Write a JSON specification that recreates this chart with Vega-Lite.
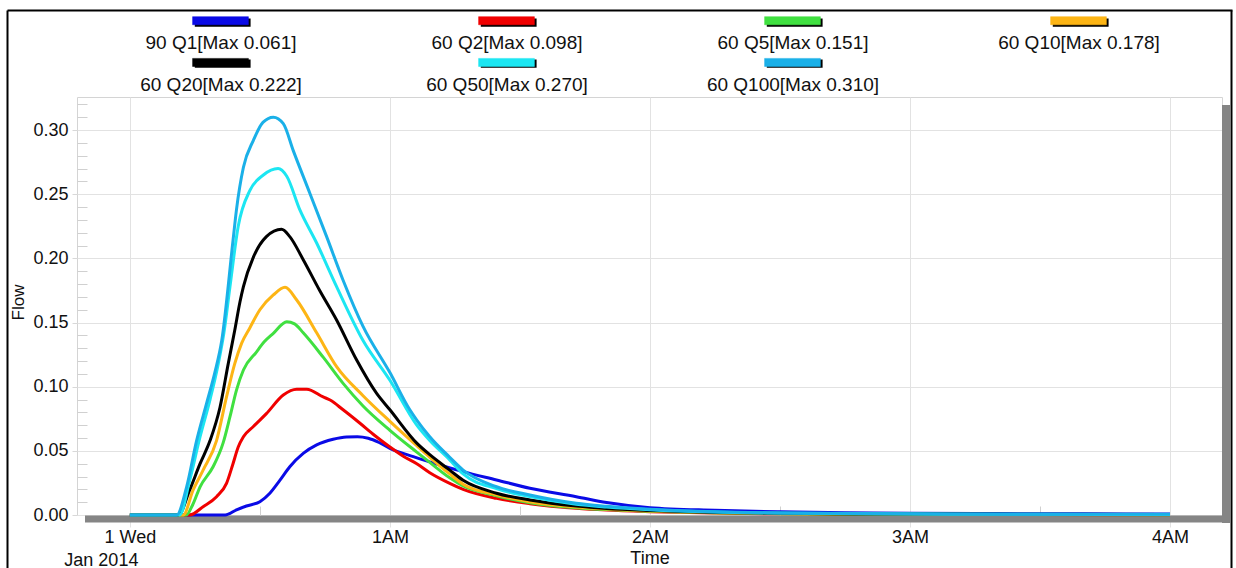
{
"$schema": "https://vega.github.io/schema/vega-lite/v6.json",
"width": 1145, "height": 418,
"autosize": {"type": "none"},
"padding": {"left": 77, "top": 97, "right": 14, "bottom": 53},
"background": "white",
"config": {"view": {"stroke": "#d4d4d4", "strokeWidth": 1}, "font": "Liberation Sans"},
"data": {"values": [
{"s":"90 Q1[Max 0.061]","t":0,"v":0},{"s":"90 Q1[Max 0.061]","t":22,"v":0},{"s":"90 Q1[Max 0.061]","t":24.6,"v":0.004},{"s":"90 Q1[Max 0.061]","t":26.9,"v":0.007},{"s":"90 Q1[Max 0.061]","t":30,"v":0.0104},{"s":"90 Q1[Max 0.061]","t":32.3,"v":0.017},{"s":"90 Q1[Max 0.061]","t":34.6,"v":0.027},{"s":"90 Q1[Max 0.061]","t":36.9,"v":0.0376},{"s":"90 Q1[Max 0.061]","t":40,"v":0.048},{"s":"90 Q1[Max 0.061]","t":43.1,"v":0.0546},{"s":"90 Q1[Max 0.061]","t":46.9,"v":0.059},{"s":"90 Q1[Max 0.061]","t":50,"v":0.0608},{"s":"90 Q1[Max 0.061]","t":52.5,"v":0.061},{"s":"90 Q1[Max 0.061]","t":55,"v":0.0598},{"s":"90 Q1[Max 0.061]","t":57.5,"v":0.0565},{"s":"90 Q1[Max 0.061]","t":60,"v":0.052},{"s":"90 Q1[Max 0.061]","t":65.4,"v":0.0455},{"s":"90 Q1[Max 0.061]","t":71.5,"v":0.039},{"s":"90 Q1[Max 0.061]","t":76.9,"v":0.0338},{"s":"90 Q1[Max 0.061]","t":84.6,"v":0.0273},{"s":"90 Q1[Max 0.061]","t":92.3,"v":0.0208},{"s":"90 Q1[Max 0.061]","t":103,"v":0.0143},{"s":"90 Q1[Max 0.061]","t":110,"v":0.0097},{"s":"90 Q1[Max 0.061]","t":120,"v":0.0057},{"s":"90 Q1[Max 0.061]","t":135,"v":0.0037},{"s":"90 Q1[Max 0.061]","t":150,"v":0.0025},{"s":"90 Q1[Max 0.061]","t":165,"v":0.0018},{"s":"90 Q1[Max 0.061]","t":180,"v":0.0014},{"s":"90 Q1[Max 0.061]","t":200,"v":0.0011},{"s":"90 Q1[Max 0.061]","t":220,"v":0.0009},{"s":"90 Q1[Max 0.061]","t":240,"v":0.0008},
{"s":"60 Q2[Max 0.098]","t":0,"v":0},{"s":"60 Q2[Max 0.098]","t":13.8,"v":0},{"s":"60 Q2[Max 0.098]","t":16.9,"v":0.0065},{"s":"60 Q2[Max 0.098]","t":20,"v":0.0143},{"s":"60 Q2[Max 0.098]","t":22.3,"v":0.0247},{"s":"60 Q2[Max 0.098]","t":23.8,"v":0.04},{"s":"60 Q2[Max 0.098]","t":25,"v":0.053},{"s":"60 Q2[Max 0.098]","t":26.2,"v":0.061},{"s":"60 Q2[Max 0.098]","t":28.5,"v":0.069},{"s":"60 Q2[Max 0.098]","t":31.5,"v":0.079},{"s":"60 Q2[Max 0.098]","t":35.4,"v":0.0935},{"s":"60 Q2[Max 0.098]","t":38.5,"v":0.098},{"s":"60 Q2[Max 0.098]","t":40.8,"v":0.098},{"s":"60 Q2[Max 0.098]","t":44.6,"v":0.092},{"s":"60 Q2[Max 0.098]","t":46.2,"v":0.0896},{"s":"60 Q2[Max 0.098]","t":49.2,"v":0.082},{"s":"60 Q2[Max 0.098]","t":53.1,"v":0.0715},{"s":"60 Q2[Max 0.098]","t":56.5,"v":0.062},{"s":"60 Q2[Max 0.098]","t":60,"v":0.053},{"s":"60 Q2[Max 0.098]","t":63,"v":0.046},{"s":"60 Q2[Max 0.098]","t":66.2,"v":0.04},{"s":"60 Q2[Max 0.098]","t":69.2,"v":0.033},{"s":"60 Q2[Max 0.098]","t":73.8,"v":0.0247},{"s":"60 Q2[Max 0.098]","t":76.9,"v":0.02},{"s":"60 Q2[Max 0.098]","t":84.6,"v":0.013},{"s":"60 Q2[Max 0.098]","t":92.3,"v":0.0088},{"s":"60 Q2[Max 0.098]","t":103,"v":0.0052},{"s":"60 Q2[Max 0.098]","t":110,"v":0.0038},{"s":"60 Q2[Max 0.098]","t":120,"v":0.0026},{"s":"60 Q2[Max 0.098]","t":135,"v":0.0015},{"s":"60 Q2[Max 0.098]","t":150,"v":0.0009},{"s":"60 Q2[Max 0.098]","t":180,"v":0.0005},{"s":"60 Q2[Max 0.098]","t":210,"v":0.0003},{"s":"60 Q2[Max 0.098]","t":240,"v":0.0002},
{"s":"60 Q5[Max 0.151]","t":0,"v":0},{"s":"60 Q5[Max 0.151]","t":13,"v":0},{"s":"60 Q5[Max 0.151]","t":14.5,"v":0.008},{"s":"60 Q5[Max 0.151]","t":16.2,"v":0.022},{"s":"60 Q5[Max 0.151]","t":19.2,"v":0.0376},{"s":"60 Q5[Max 0.151]","t":21.5,"v":0.056},{"s":"60 Q5[Max 0.151]","t":23.1,"v":0.0766},{"s":"60 Q5[Max 0.151]","t":24.6,"v":0.0974},{"s":"60 Q5[Max 0.151]","t":26.2,"v":0.113},{"s":"60 Q5[Max 0.151]","t":29.2,"v":0.127},{"s":"60 Q5[Max 0.151]","t":31,"v":0.135},{"s":"60 Q5[Max 0.151]","t":33.1,"v":0.1416},{"s":"60 Q5[Max 0.151]","t":36.2,"v":0.1507},{"s":"60 Q5[Max 0.151]","t":38,"v":0.149},{"s":"60 Q5[Max 0.151]","t":40,"v":0.142},{"s":"60 Q5[Max 0.151]","t":44.6,"v":0.123},{"s":"60 Q5[Max 0.151]","t":49.2,"v":0.1026},{"s":"60 Q5[Max 0.151]","t":53.8,"v":0.085},{"s":"60 Q5[Max 0.151]","t":60,"v":0.066},{"s":"60 Q5[Max 0.151]","t":66.2,"v":0.049},{"s":"60 Q5[Max 0.151]","t":69.2,"v":0.041},{"s":"60 Q5[Max 0.151]","t":73.8,"v":0.029},{"s":"60 Q5[Max 0.151]","t":76.9,"v":0.0226},{"s":"60 Q5[Max 0.151]","t":84.6,"v":0.015},{"s":"60 Q5[Max 0.151]","t":92.3,"v":0.0096},{"s":"60 Q5[Max 0.151]","t":103,"v":0.0057},{"s":"60 Q5[Max 0.151]","t":110,"v":0.0042},{"s":"60 Q5[Max 0.151]","t":120,"v":0.0029},{"s":"60 Q5[Max 0.151]","t":135,"v":0.0017},{"s":"60 Q5[Max 0.151]","t":150,"v":0.001},{"s":"60 Q5[Max 0.151]","t":180,"v":0.0005},{"s":"60 Q5[Max 0.151]","t":240,"v":0.0002},
{"s":"60 Q10[Max 0.178]","t":0,"v":0},{"s":"60 Q10[Max 0.178]","t":12.3,"v":0},{"s":"60 Q10[Max 0.178]","t":14.6,"v":0.0195},{"s":"60 Q10[Max 0.178]","t":16.9,"v":0.035},{"s":"60 Q10[Max 0.178]","t":20,"v":0.058},{"s":"60 Q10[Max 0.178]","t":22.3,"v":0.092},{"s":"60 Q10[Max 0.178]","t":24.2,"v":0.118},{"s":"60 Q10[Max 0.178]","t":25.8,"v":0.134},{"s":"60 Q10[Max 0.178]","t":27.7,"v":0.146},{"s":"60 Q10[Max 0.178]","t":30,"v":0.16},{"s":"60 Q10[Max 0.178]","t":33.1,"v":0.1715},{"s":"60 Q10[Max 0.178]","t":35.8,"v":0.1775},{"s":"60 Q10[Max 0.178]","t":38.5,"v":0.1676},{"s":"60 Q10[Max 0.178]","t":43.1,"v":0.142},{"s":"60 Q10[Max 0.178]","t":47.7,"v":0.1156},{"s":"60 Q10[Max 0.178]","t":53.8,"v":0.093},{"s":"60 Q10[Max 0.178]","t":60,"v":0.073},{"s":"60 Q10[Max 0.178]","t":66.2,"v":0.054},{"s":"60 Q10[Max 0.178]","t":69.2,"v":0.045},{"s":"60 Q10[Max 0.178]","t":73.8,"v":0.032},{"s":"60 Q10[Max 0.178]","t":76.9,"v":0.024},{"s":"60 Q10[Max 0.178]","t":84.6,"v":0.0157},{"s":"60 Q10[Max 0.178]","t":92.3,"v":0.0104},{"s":"60 Q10[Max 0.178]","t":103,"v":0.0062},{"s":"60 Q10[Max 0.178]","t":110,"v":0.0046},{"s":"60 Q10[Max 0.178]","t":120,"v":0.0031},{"s":"60 Q10[Max 0.178]","t":135,"v":0.0018},{"s":"60 Q10[Max 0.178]","t":150,"v":0.0011},{"s":"60 Q10[Max 0.178]","t":180,"v":0.0006},{"s":"60 Q10[Max 0.178]","t":240,"v":0.0003},
{"s":"60 Q20[Max 0.222]","t":0,"v":0},{"s":"60 Q20[Max 0.222]","t":11.2,"v":0},{"s":"60 Q20[Max 0.222]","t":13.8,"v":0.0195},{"s":"60 Q20[Max 0.222]","t":16.2,"v":0.04},{"s":"60 Q20[Max 0.222]","t":18.5,"v":0.058},{"s":"60 Q20[Max 0.222]","t":20.8,"v":0.084},{"s":"60 Q20[Max 0.222]","t":22.7,"v":0.118},{"s":"60 Q20[Max 0.222]","t":24.2,"v":0.144},{"s":"60 Q20[Max 0.222]","t":25.4,"v":0.166},{"s":"60 Q20[Max 0.222]","t":26.2,"v":0.178},{"s":"60 Q20[Max 0.222]","t":28.5,"v":0.201},{"s":"60 Q20[Max 0.222]","t":31.5,"v":0.217},{"s":"60 Q20[Max 0.222]","t":35,"v":0.2227},{"s":"60 Q20[Max 0.222]","t":36.9,"v":0.217},{"s":"60 Q20[Max 0.222]","t":40,"v":0.199},{"s":"60 Q20[Max 0.222]","t":43.8,"v":0.175},{"s":"60 Q20[Max 0.222]","t":47.7,"v":0.152},{"s":"60 Q20[Max 0.222]","t":52.3,"v":0.121},{"s":"60 Q20[Max 0.222]","t":56.9,"v":0.095},{"s":"60 Q20[Max 0.222]","t":60,"v":0.082},{"s":"60 Q20[Max 0.222]","t":66.2,"v":0.056},{"s":"60 Q20[Max 0.222]","t":69.2,"v":0.047},{"s":"60 Q20[Max 0.222]","t":73.8,"v":0.035},{"s":"60 Q20[Max 0.222]","t":76.9,"v":0.027},{"s":"60 Q20[Max 0.222]","t":84.6,"v":0.017},{"s":"60 Q20[Max 0.222]","t":92.3,"v":0.0117},{"s":"60 Q20[Max 0.222]","t":103,"v":0.007},{"s":"60 Q20[Max 0.222]","t":110,"v":0.0051},{"s":"60 Q20[Max 0.222]","t":120,"v":0.0035},{"s":"60 Q20[Max 0.222]","t":135,"v":0.002},{"s":"60 Q20[Max 0.222]","t":150,"v":0.0013},{"s":"60 Q20[Max 0.222]","t":180,"v":0.0007},{"s":"60 Q20[Max 0.222]","t":240,"v":0.0003},
{"s":"60 Q50[Max 0.270]","t":0,"v":0},{"s":"60 Q50[Max 0.270]","t":11.5,"v":0},{"s":"60 Q50[Max 0.270]","t":13.8,"v":0.027},{"s":"60 Q50[Max 0.270]","t":16.2,"v":0.061},{"s":"60 Q50[Max 0.270]","t":18.5,"v":0.09},{"s":"60 Q50[Max 0.270]","t":20.4,"v":0.118},{"s":"60 Q50[Max 0.270]","t":21.7,"v":0.142},{"s":"60 Q50[Max 0.270]","t":23.1,"v":0.178},{"s":"60 Q50[Max 0.270]","t":25,"v":0.225},{"s":"60 Q50[Max 0.270]","t":27.7,"v":0.253},{"s":"60 Q50[Max 0.270]","t":30.8,"v":0.265},{"s":"60 Q50[Max 0.270]","t":34.2,"v":0.27},{"s":"60 Q50[Max 0.270]","t":36.2,"v":0.264},{"s":"60 Q50[Max 0.270]","t":39.2,"v":0.238},{"s":"60 Q50[Max 0.270]","t":43.1,"v":0.212},{"s":"60 Q50[Max 0.270]","t":47.7,"v":0.178},{"s":"60 Q50[Max 0.270]","t":53.8,"v":0.136},{"s":"60 Q50[Max 0.270]","t":60,"v":0.105},{"s":"60 Q50[Max 0.270]","t":66.2,"v":0.07},{"s":"60 Q50[Max 0.270]","t":69.2,"v":0.058},{"s":"60 Q50[Max 0.270]","t":73.8,"v":0.043},{"s":"60 Q50[Max 0.270]","t":76.9,"v":0.032},{"s":"60 Q50[Max 0.270]","t":84.6,"v":0.0205},{"s":"60 Q50[Max 0.270]","t":92.3,"v":0.0143},{"s":"60 Q50[Max 0.270]","t":103,"v":0.0083},{"s":"60 Q50[Max 0.270]","t":110,"v":0.0062},{"s":"60 Q50[Max 0.270]","t":120,"v":0.0041},{"s":"60 Q50[Max 0.270]","t":135,"v":0.0023},{"s":"60 Q50[Max 0.270]","t":150,"v":0.0015},{"s":"60 Q50[Max 0.270]","t":180,"v":0.0008},{"s":"60 Q50[Max 0.270]","t":210,"v":0.0005},{"s":"60 Q50[Max 0.270]","t":240,"v":0.0004},
{"s":"60 Q100[Max 0.310]","t":0,"v":0},{"s":"60 Q100[Max 0.310]","t":10.8,"v":0},{"s":"60 Q100[Max 0.310]","t":13.1,"v":0.022},{"s":"60 Q100[Max 0.310]","t":15.4,"v":0.058},{"s":"60 Q100[Max 0.310]","t":17.7,"v":0.087},{"s":"60 Q100[Max 0.310]","t":19.6,"v":0.111},{"s":"60 Q100[Max 0.310]","t":21.2,"v":0.136},{"s":"60 Q100[Max 0.310]","t":23.8,"v":0.214},{"s":"60 Q100[Max 0.310]","t":24.6,"v":0.238},{"s":"60 Q100[Max 0.310]","t":26.2,"v":0.271},{"s":"60 Q100[Max 0.310]","t":28.5,"v":0.292},{"s":"60 Q100[Max 0.310]","t":30.7,"v":0.306},{"s":"60 Q100[Max 0.310]","t":33.1,"v":0.31},{"s":"60 Q100[Max 0.310]","t":35.4,"v":0.305},{"s":"60 Q100[Max 0.310]","t":37.7,"v":0.284},{"s":"60 Q100[Max 0.310]","t":41.5,"v":0.251},{"s":"60 Q100[Max 0.310]","t":45.4,"v":0.217},{"s":"60 Q100[Max 0.310]","t":49.2,"v":0.183},{"s":"60 Q100[Max 0.310]","t":53.8,"v":0.147},{"s":"60 Q100[Max 0.310]","t":60,"v":0.111},{"s":"60 Q100[Max 0.310]","t":64.6,"v":0.082},{"s":"60 Q100[Max 0.310]","t":66.2,"v":0.074},{"s":"60 Q100[Max 0.310]","t":69.2,"v":0.061},{"s":"60 Q100[Max 0.310]","t":73.8,"v":0.045},{"s":"60 Q100[Max 0.310]","t":76.9,"v":0.035},{"s":"60 Q100[Max 0.310]","t":84.6,"v":0.022},{"s":"60 Q100[Max 0.310]","t":92.3,"v":0.0156},{"s":"60 Q100[Max 0.310]","t":103,"v":0.0091},{"s":"60 Q100[Max 0.310]","t":110,"v":0.0068},{"s":"60 Q100[Max 0.310]","t":120,"v":0.0045},{"s":"60 Q100[Max 0.310]","t":135,"v":0.0025},{"s":"60 Q100[Max 0.310]","t":150,"v":0.0016},{"s":"60 Q100[Max 0.310]","t":180,"v":0.0009},{"s":"60 Q100[Max 0.310]","t":210,"v":0.0006},{"s":"60 Q100[Max 0.310]","t":240,"v":0.0005}
]},
"layer": [
{"mark": {"type": "point", "opacity": 0},
 "encoding": {
  "x": {"field": "t", "type": "quantitative", "scale": {"domain": [0, 1], "range": [-70, 1155]},
   "axis": {"orient": "top", "offset": 87, "domain": true, "domainColor": "#000000", "domainWidth": 2, "ticks": false, "labels": false, "grid": false, "title": null}},
  "y": {"field": "v", "type": "quantitative", "scale": {"domain": [0, 1], "range": [471, -87]},
   "axis": {"orient": "left", "offset": 70, "domain": true, "domainColor": "#000000", "domainWidth": 2, "ticks": false, "labels": false, "grid": false, "title": null}}
 }},
{"mark": {"type": "point", "opacity": 0},
 "encoding": {
  "x": {"field": "t", "type": "quantitative", "scale": {"domain": [-12.2, 252], "nice": false, "zero": false}, "axis": null},
  "y": {"field": "v", "type": "quantitative", "scale": {"domain": [0, 1], "range": [471, -87]},
   "axis": {"orient": "right", "offset": 9, "domain": true, "domainColor": "#000000", "domainWidth": 2, "ticks": false, "labels": false, "grid": false, "title": null}}
 }},
{"transform": [{"filter": "false"}],
 "mark": {"type": "point", "filled": true},
 "encoding": {
  "fill": {"field": "s", "type": "nominal",
   "scale": {"domain": ["90 Q1[Max 0.061] ", "60 Q2[Max 0.098] ", "60 Q5[Max 0.151] ", "60 Q10[Max 0.178] ", "60 Q20[Max 0.222] ", "60 Q50[Max 0.270] ", "60 Q100[Max 0.310] "],
             "range": ["#000000", "#000000", "#000000", "#000000", "#000000", "#000000", "#000000"]},
   "legend": {"orient": "none", "legendX": 113, "legendY": -85, "columns": 4, "direction": "horizontal", "gridAlign": "all", "title": null, "padding": 0, "zindex": 1,
    "symbolType": "M-0.84,-0.78H1.02V-0.51H-0.84Z", "symbolSize": 3600, "symbolStrokeWidth": 0, "symbolOpacity": 1,
    "labelExpr": "trim(datum.label)", "labelFont": "Liberation Sans", "labelFontSize": 19, "labelColor": "transparent", "labelLimit": 300, "labelAlign": "center", "labelOffset": -30,
    "columnPadding": 112, "rowPadding": 1}}
 }},
{"mark": {"type": "line", "strokeWidth": 3, "interpolate": "monotone"},
 "encoding": {
  "x": {"field": "t", "type": "quantitative", "scale": {"domain": [-12.2, 252], "nice": false, "zero": false},
   "axis": {"orient": "bottom", "values": [0, 60, 120, 180, 240], "grid": true, "gridColor": "#e2e2e2", "domain": false, "ticks": true, "tickColor": "#e2e2e2", "tickSize": 12, "labelFontSize": 18, "labelColor": "#111111", "labelPadding": 1, "labelFlush": false, "labelOverlap": false,
    "labelExpr": "datum.value == 0 ? '1 Wed' : (datum.value / 60) + 'AM'",
    "title": "Time", "titleFontSize": 18, "titleFontWeight": "normal", "titleColor": "#111111", "titleY": 43, "titleBaseline": "middle"}},
  "y": {"field": "v", "type": "quantitative", "scale": {"domain": [0, 0.3258], "nice": false},
   "axis": {"orient": "left", "values": [0, 0.05, 0.1, 0.15, 0.2, 0.25, 0.3], "format": ".2f", "grid": true, "gridColor": "#e2e2e2", "domain": false, "tickColor": "#d8d8d8", "tickSize": 5, "labelPadding": 4, "labelFontSize": 18, "labelColor": "#111111",
    "title": "Flow", "titleFontSize": 17, "titleFontWeight": "normal", "titleColor": "#111111", "titleX": -59, "titleY": 205, "titleBaseline": "middle", "titleAngle": -90}},
  "color": {"field": "s", "type": "nominal",
   "scale": {"domain": ["90 Q1[Max 0.061]", "60 Q2[Max 0.098]", "60 Q5[Max 0.151]", "60 Q10[Max 0.178]", "60 Q20[Max 0.222]", "60 Q50[Max 0.270]", "60 Q100[Max 0.310]"],
             "range": ["#0A0AE6", "#F00000", "#40E040", "#FDB515", "#000000", "#1CE6F2", "#1AB0E8"]},
   "legend": {"orient": "none", "legendX": 113, "legendY": -85, "columns": 4, "direction": "horizontal", "gridAlign": "all", "title": null, "padding": 0, "zindex": 2,
    "symbolType": "M-0.93,-0.87H0.93V-0.6H-0.93Z", "symbolSize": 3600, "symbolStrokeWidth": 0.5,
    "labelFont": "Liberation Sans", "labelFontSize": 19, "labelColor": "#111111", "labelLimit": 300, "labelAlign": "center", "labelOffset": -30,
    "columnPadding": 112, "rowPadding": 1,
    "encode": {"symbols": {"update": {"fill": {"scale": "color", "field": "value"}, "opacity": {"value": 1}}}}}}
 }},
{"mark": {"type": "point", "opacity": 0},
 "encoding": {
  "x": {"field": "t", "type": "quantitative", "scale": {"domain": [-12.2, 252], "nice": false, "zero": false},
   "axis": {"orient": "bottom", "domain": true, "domainColor": "#858585", "domainWidth": 7, "ticks": false, "labels": false, "grid": false, "title": null, "offset": -4, "translate": 8}},
  "y": {"field": "v", "type": "quantitative", "scale": {"domain": [0, 0.3258], "nice": false},
   "axis": {"orient": "right", "domain": true, "domainColor": "#858585", "domainWidth": 8, "ticks": false, "labels": false, "grid": false, "title": null, "offset": -4, "translate": 8}}
 }},
{"mark": {"type": "point", "opacity": 0},
 "encoding": {
  "x": {"field": "t", "type": "quantitative", "scale": {"domain": [-12.2, 252], "nice": false, "zero": false},
   "axis": {"orient": "bottom", "values": [30, 90, 150, 210], "domain": false, "ticks": true, "tickSize": -9, "tickColor": "#d0d0d0", "labels": false, "grid": false, "title": null}},
  "y": {"field": "v", "type": "quantitative", "scale": {"domain": [0, 0.3258], "nice": false},
   "axis": {"orient": "left", "values": [0.01, 0.02, 0.03, 0.04, 0.06, 0.07, 0.08, 0.09, 0.11, 0.12, 0.13, 0.14, 0.16, 0.17, 0.18, 0.19, 0.21, 0.22, 0.23, 0.24, 0.26, 0.27, 0.28, 0.29, 0.31, 0.32], "domain": false, "ticks": true, "tickSize": -10, "tickColor": "#d0d0d0", "labels": false, "grid": false, "title": null}}
 }},
{"mark": {"type": "point", "opacity": 0},
 "encoding": {
  "x": {"field": "t", "type": "quantitative", "scale": {"domain": [-12.2, 252], "nice": false, "zero": false},
   "axis": {"orient": "bottom", "values": [0], "labelExpr": "'Jan 2014'", "domain": false, "ticks": false, "grid": false, "title": null, "labelPadding": 36, "labelFontSize": 18, "labelColor": "#111111", "labelOffset": -29, "labelFlush": false}},
  "y": {"field": "v", "type": "quantitative", "scale": {"domain": [0, 0.3258], "nice": false}, "axis": null}
 }}
],
"resolve": {"scale": {"x": "independent", "y": "independent"}, "axis": {"x": "independent", "y": "independent"}}
}
